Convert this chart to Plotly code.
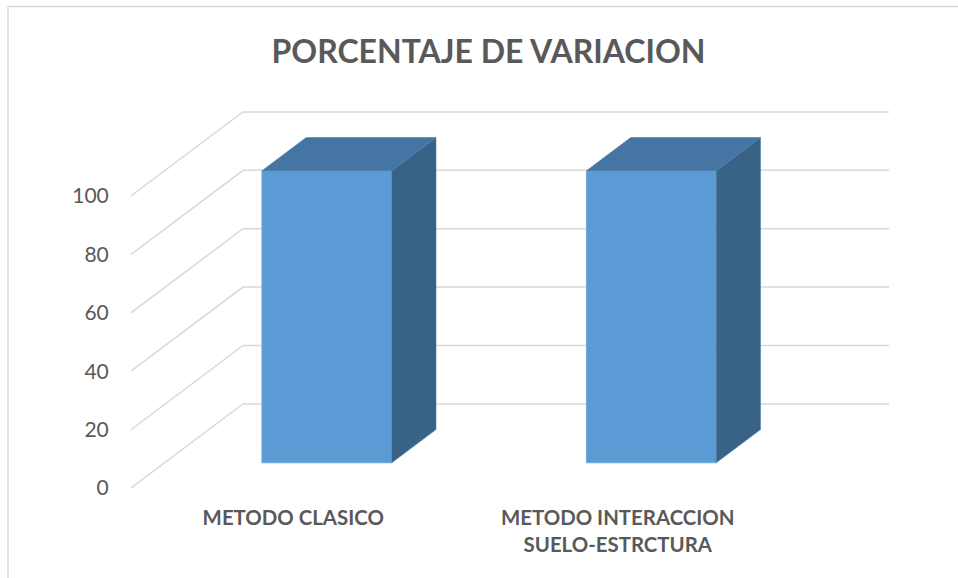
import plotly.graph_objects as go

categories = ["METODO CLASICO", "METODO INTERACCION<br>SUELO-ESTRCTURA"]
values = [100, 100]
y_ticks = [0, 20, 40, 60, 80, 100]

W, H = 958, 578
L, R, T, B = 131, 889, 111, 488   # plot box in pixels
X0 = -0.5
PX_PER_CAT = 324.5
X1 = X0 + (R - L) / PX_PER_CAT
DEPTH_X = 112 / PX_PER_CAT        # oblique depth offset, category units
DEPTH_Y = 28.8                    # oblique depth offset, value units
BAR_WIDTH = 0.4
NEAR, FAR = 0.30, 0.695           # bar depth span, as a fraction of the floor depth

GRID = "#d9d9d9"
TEXT = "#595959"
FRONT = "#5b9bd5"
TOP = "#4475a3"
SIDE = "#386387"
FONT = "Lato, Carlito, Calibri, sans-serif"

fig = go.Figure()
cat_pos = list(range(len(categories)))

# Front faces
fig.add_trace(go.Bar(
    x=[c + NEAR * DEPTH_X for c in cat_pos],
    y=values,
    base=[NEAR * DEPTH_Y] * len(values),
    width=BAR_WIDTH,
    marker=dict(color=FRONT, line=dict(color="#6fa8dc", width=1)),
    hoverinfo="skip",
))

# Top and side faces
for c, v in zip(cat_pos, values):
    xl = c - BAR_WIDTH / 2
    xr = c + BAR_WIDTH / 2
    nx, ny = NEAR * DEPTH_X, NEAR * DEPTH_Y
    fx, fy = FAR * DEPTH_X, FAR * DEPTH_Y
    fig.add_trace(go.Scatter(
        x=[xr + nx, xr + fx, xr + fx, xr + nx, xr + nx],
        y=[ny, fy, v + fy, v + ny, ny],
        mode="lines", fill="toself", fillcolor=SIDE,
        line=dict(color="#4f7ea8", width=0.6), hoverinfo="skip",
    ))
    fig.add_trace(go.Scatter(
        x=[xl + nx, xl + fx, xr + fx, xr + nx, xl + nx],
        y=[v + ny, v + fy, v + fy, v + ny, v + ny],
        mode="lines", fill="toself", fillcolor=TOP,
        line=dict(color="#4f7ea8", width=0.6), hoverinfo="skip",
    ))

# Side-wall and back-wall gridlines, one per value tick
shapes = []
for t in y_ticks:
    shapes.append(dict(
        type="path", xref="x", yref="y", layer="below",
        path=f"M {X0} {t} L {X0 + DEPTH_X} {t + DEPTH_Y} L {X1} {t + DEPTH_Y}",
        line=dict(color=GRID, width=1.5),
    ))

# Chart-area border: top and left edges only show in the picture
px_x = lambda p: (p - L) / (R - L)
px_y = lambda p: (B - p) / (B - T)
for x0, y0, x1, y1 in [(8, H, 8, 6.5), (8, 6.5, W, 6.5)]:
    shapes.append(dict(
        type="line", xref="paper", yref="paper", layer="below",
        x0=px_x(x0), y0=px_y(y0), x1=px_x(x1), y1=px_y(y1),
        line=dict(color=GRID, width=1.5),
    ))

fig.update_layout(
    width=W, height=H,
    margin=dict(l=L, r=W - R, t=T, b=H - B, pad=0),
    paper_bgcolor="white", plot_bgcolor="rgba(0,0,0,0)",
    showlegend=False,
    shapes=shapes,
    title=dict(
        text="PORCENTAJE DE VARIACION",
        x=488.5 / W, xanchor="center", xref="container",
        y=1 - 52 / H, yanchor="middle", yref="container",
        font=dict(family=FONT, size=32, color=TEXT, weight="bold"),
    ),
    xaxis=dict(
        range=[X0, X1], tickmode="array",
        tickvals=cat_pos, ticktext=categories,
        showgrid=False, zeroline=False, showline=False,
        ticks="outside", ticklen=12, tickcolor="rgba(0,0,0,0)",
        tickfont=dict(family=FONT, size=20.4, color=TEXT, weight="bold"),
        tickangle=0,
    ),
    yaxis=dict(
        range=[0, (B - T) / 2.92], tickmode="array",
        tickvals=y_ticks, ticktext=[str(t) for t in y_ticks],
        showgrid=False, zeroline=False, showline=False,
        ticks="outside", ticklen=17, tickcolor="rgba(0,0,0,0)",
        tickfont=dict(family=FONT, size=21, color=TEXT),
    ),
)

fig.write_html(
    "out.html",
    config={"displayModeBar": False},
    post_script="document.body.style.margin='0';document.documentElement.style.overflow='hidden';",
)
